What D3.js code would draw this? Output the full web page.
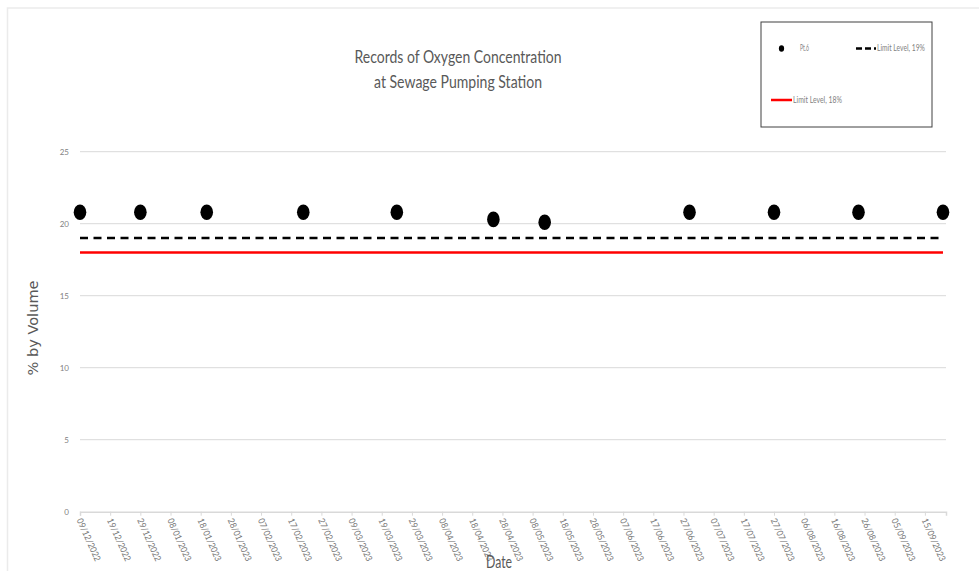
<!DOCTYPE html>
<html>
<head>
<meta charset="utf-8">
<script src="https://cdn.jsdelivr.net/npm/d3@7/dist/d3.min.js"></script>
<style>
  html, body { margin: 0; padding: 0; background: #fff; }
  svg { display: block; }
</style>
</head>
<body>
<svg id="chart" width="979" height="571"></svg>
<script>
// ---- Data ----
const dates = ["09/12/2022","29/12/2022","20/01/2023","21/02/2023","24/03/2023","25/04/2023",
               "12/05/2023","29/06/2023","27/07/2023","24/08/2023","21/09/2023"];
const pt6 = [20.8, 20.8, 20.8, 20.8, 20.8, 20.3, 20.1, 20.8, 20.8, 20.8, 20.8];
const limit19 = 19;
const limit18 = 18;
const yTicks = [0, 5, 10, 15, 20, 25];
const axisStart = "09/12/2022";
const axisEnd = "22/09/2023";
const tickStepDays = 10;

const titleLines = ["Records of Oxygen Concentration", "at Sewage Pumping Station"];
const yTitle = "% by Volume";
const xTitle = "Date";
const legendLabels = ["Pt.6", "Limit Level, 19%", "Limit Level, 18%"];

// ---- Setup ----
const parse = d3.timeParse("%d/%m/%Y");
const fmt = d3.timeFormat("%d/%m/%Y");
const svg = d3.select("#chart");
const FONT = "Lato, 'Liberation Sans', sans-serif";

const x = d3.scaleTime().domain([parse(axisStart), parse(axisEnd)]).range([80, 946]);
const y = d3.scaleLinear().domain([0, 25]).range([511.7, 151.7]);

const xTickDates = d3.timeDay.range(parse(axisStart), d3.timeDay.offset(parse(axisEnd), 1))
  .filter((d, i) => i % tickStepDays === 0);

// chart border
svg.append("rect").attr("x", 7.5).attr("y", 8).attr("width", 1200).attr("height", 1200)
  .attr("fill", "none").attr("stroke", "#ebebeb").attr("stroke-width", 1.5);

// title
const titleWidths = [207, 168];
svg.append("g").selectAll("text").data(titleLines).join("text")
  .attr("x", 458).attr("y", (d, i) => 63 + i * 25)
  .attr("text-anchor", "middle")
  .attr("font-family", FONT)
  .attr("font-size", 17).attr("fill", "#595959")
  .attr("textLength", (d, i) => titleWidths[i]).attr("lengthAdjust", "spacingAndGlyphs")
  .text(d => d);

// gridlines
svg.append("g").selectAll("line").data(yTicks.filter(t => t > 0)).join("line")
  .attr("x1", 80).attr("x2", 946)
  .attr("y1", d => y(d)).attr("y2", d => y(d))
  .attr("stroke", "#d9d9d9").attr("stroke-width", 1);

// y axis labels
svg.append("g").selectAll("text").data(yTicks).join("text")
  .attr("x", 69).attr("y", d => y(d)).attr("dy", "0.35em")
  .attr("text-anchor", "end")
  .attr("font-family", FONT)
  .attr("font-size", 8).attr("fill", "#7f7f7f")
  .text(d => d);

// x axis
const xAxis = d3.axisBottom(x).tickValues(xTickDates).tickSize(4).tickFormat("");
const gx = svg.append("g").attr("transform", `translate(0,${y(0)})`).call(xAxis);
gx.select(".domain").attr("stroke", "#d9d9d9").attr("stroke-width", 1.5);
gx.selectAll(".tick line").attr("stroke", "#d9d9d9");

svg.append("g").selectAll("text").data(xTickDates).join("text")
  .attr("transform", d => `translate(${x(d) - 0.5},${y(0) + 7}) rotate(66)`)
  .attr("dy", "0.35em")
  .attr("text-anchor", "start")
  .attr("font-family", FONT)
  .attr("font-size", 9).attr("fill", "#767676")
  .attr("textLength", 46).attr("lengthAdjust", "spacingAndGlyphs")
  .text(d => fmt(d));

// axis titles
svg.append("text")
  .attr("transform", `translate(38,328) rotate(-90)`)
  .attr("text-anchor", "middle")
  .attr("font-family", "'DejaVu Sans', sans-serif")
  .attr("font-size", 14).attr("fill", "#595959")
  .attr("textLength", 95).attr("lengthAdjust", "spacingAndGlyphs")
  .text(yTitle);

svg.append("text")
  .attr("x", 499).attr("y", 568)
  .attr("text-anchor", "middle")
  .attr("font-family", FONT)
  .attr("font-size", 17).attr("fill", "#595959")
  .attr("textLength", 26).attr("lengthAdjust", "spacingAndGlyphs")
  .text(xTitle);

// limit lines
const firstDate = parse(dates[0]), lastDate = parse(dates[dates.length - 1]);
svg.append("line")
  .attr("x1", x(firstDate)).attr("x2", x(lastDate))
  .attr("y1", y(limit19)).attr("y2", y(limit19))
  .attr("stroke", "#000").attr("stroke-width", 2.5).attr("stroke-dasharray", "8,5.5");
svg.append("line")
  .attr("x1", x(firstDate)).attr("x2", x(lastDate))
  .attr("y1", y(limit18)).attr("y2", y(limit18))
  .attr("stroke", "#ff0000").attr("stroke-width", 2.5);

// points
svg.append("g").selectAll("ellipse").data(dates.map((d, i) => ({d: parse(d), v: pt6[i]}))).join("ellipse")
  .attr("cx", p => x(p.d)).attr("cy", p => y(p.v))
  .attr("rx", 6.3).attr("ry", 7.8)
  .attr("fill", "#000");

// legend
const lg = svg.append("g");
lg.append("rect").attr("x", 761).attr("y", 22).attr("width", 171).attr("height", 105)
  .attr("fill", "#fff").attr("stroke", "#404040").attr("stroke-width", 1);
lg.append("ellipse").attr("cx", 781.5).attr("cy", 48.5).attr("rx", 2.6).attr("ry", 3.3).attr("fill", "#000");
lg.append("line").attr("x1", 856).attr("x2", 876).attr("y1", 48.5).attr("y2", 48.5)
  .attr("stroke", "#000").attr("stroke-width", 2.5).attr("stroke-dasharray", "6,3");
lg.append("line").attr("x1", 771).attr("x2", 792).attr("y1", 100).attr("y2", 100)
  .attr("stroke", "#ff0000").attr("stroke-width", 2.5);
const lgPos = [[800, 48.5], [877, 48.5], [793, 100]];
const lgWidths = [9, 48, 49];
lg.selectAll("text").data(legendLabels).join("text")
  .attr("x", (d, i) => lgPos[i][0]).attr("y", (d, i) => lgPos[i][1]).attr("dy", "0.35em")
  .attr("font-family", FONT)
  .attr("font-size", 8.5).attr("fill", "#7f7f7f")
  .attr("textLength", (d, i) => lgWidths[i]).attr("lengthAdjust", "spacingAndGlyphs")
  .text(d => d);
</script>
</body>
</html>
